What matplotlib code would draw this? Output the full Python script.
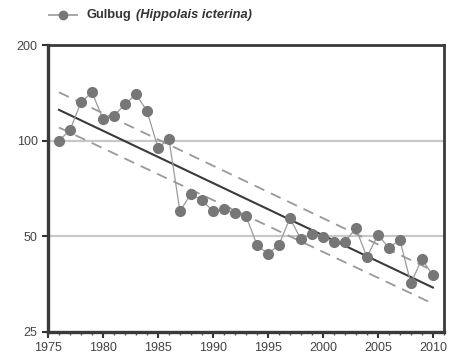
import matplotlib
matplotlib.use("Agg")
import matplotlib.pyplot as plt
from matplotlib.ticker import FixedLocator, MultipleLocator, NullFormatter

# Index values
years = list(range(1976, 2011))
index = [100, 108, 132, 142, 117, 120, 130, 140, 124, 95, 101,
         60, 68, 65, 60, 61, 59, 58, 47, 44, 47, 57, 49, 51, 49.6,
         48, 48, 53, 43, 50.5, 46, 48.7, 35.6, 42.4, 37.7]

# Trend line and confidence limits (start 1976, end 2010)
trend_years = [1976, 2010]
trend = [125, 34.5]
upper = [142, 39]
lower = [110, 30.7]

y_ticks = [25, 50, 100, 200]
x_ticks = [1975, 1980, 1985, 1990, 1995, 2000, 2005, 2010]

plt.rcParams['font.family'] = ['Liberation Sans', 'DejaVu Sans']

fig = plt.figure(figsize=(4.52, 3.6), dpi=100)
ax = fig.add_axes([0.1062, 0.0778, 0.8758, 0.7972])

ax.set_yscale("log")
ax.set_ylim(25, 200)
ax.set_xlim(1975, 2011)

# grid lines at 50 and 100
for g in [50, 100]:
    ax.axhline(g, color="#c8c8c8", lw=1.6, zorder=1)

ax.plot(trend_years, upper, color="#999999", lw=1.3, ls=(0, (6, 4)), zorder=2)
ax.plot(trend_years, lower, color="#999999", lw=1.3, ls=(0, (6, 4)), zorder=2)
ax.plot(trend_years, trend, color="#3a3a3a", lw=1.5, zorder=3)

ax.plot(years, index, color="#9a9a9a", lw=0.9, marker="o",
        markersize=7, markerfacecolor="#777777",
        markeredgecolor="#777777", zorder=4)

ax.yaxis.set_major_locator(FixedLocator(y_ticks))
ax.yaxis.set_minor_locator(FixedLocator([]))
ax.yaxis.set_minor_formatter(NullFormatter())
ax.set_yticklabels([str(t) for t in y_ticks])
ax.xaxis.set_major_locator(FixedLocator(x_ticks))
ax.xaxis.set_minor_locator(MultipleLocator(1))

ax.tick_params(axis="both", which="major", labelsize=9, labelcolor="#444444",
               color="#333333", length=4, width=1.5, direction="out")
ax.tick_params(axis="x", which="minor", length=2, width=1, color="#555555")

for s in ax.spines.values():
    s.set_color("#3a3a3a")
    s.set_linewidth(2)
ax.spines["left"].set_linewidth(2.4)
ax.spines["bottom"].set_linewidth(2.4)

# legend at top, drawn by hand
fig.text(87 / 452, 1 - 15 / 360, "Gulbug", fontsize=9.3, fontweight="bold",
         color="#333333", va="center", ha="left")
fig.text(136 / 452, 1 - 15 / 360, "(Hippolais icterina)", fontsize=9.3,
         fontweight="bold", style="italic", color="#333333",
         va="center", ha="left")
leg = fig.add_axes([48 / 452, 1 - 20 / 360, 30 / 452, 10 / 360])
leg.axis("off")
leg.set_xlim(0, 1)
leg.set_ylim(0, 1)
leg.plot([0, 1], [0.5, 0.5], color="#9a9a9a", lw=1.2)
leg.plot([0.5], [0.5], marker="o", markersize=6, color="#777777")

fig.savefig("out.png", dpi=100)
